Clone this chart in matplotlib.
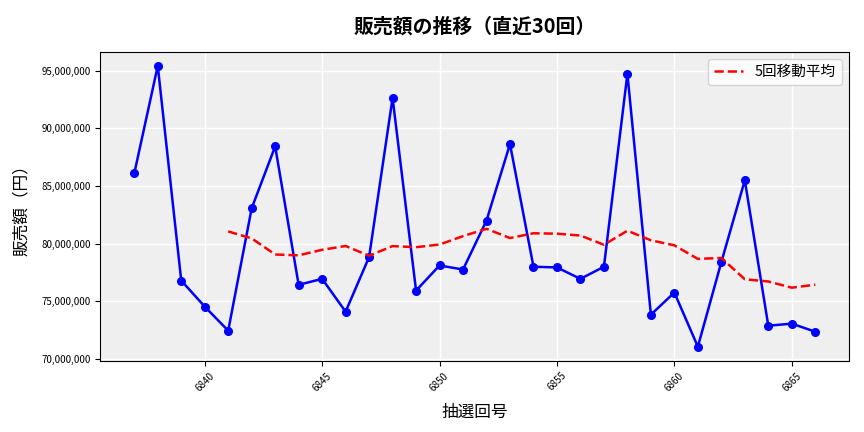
import matplotlib
matplotlib.use("Agg")
import matplotlib.pyplot as plt
import matplotlib.ticker as mticker
import numpy as np
import pandas as pd

plt.rcParams['font.family'] = ['Noto Sans CJK JP', 'DejaVu Sans']

draws = list(range(6837, 6867))
sales = [86.09, 95.43, 76.79, 74.53, 72.44, 83.07, 88.44, 76.42, 76.94, 74.09,
         78.83, 92.65, 75.92, 78.10, 77.75, 82.00, 88.64, 77.99, 77.93, 76.94,
         77.99, 94.74, 73.83, 75.75, 71.05, 78.39, 85.50, 72.87, 73.05, 72.35]
sales = [v * 1_000_000 for v in sales]

s = pd.Series(sales, index=draws)
ma = s.rolling(5).mean()

fig, ax = plt.subplots(figsize=(8.64, 4.32), dpi=100)
ax.set_facecolor('#efefef')
ax.grid(True, color='white', linewidth=1)
ax.set_axisbelow(True)

ax.plot(draws, sales, color='blue', marker='o', markersize=5.5, linewidth=1.8)
ax.plot(draws, ma.values, color='red', linestyle='--', linewidth=1.8, label='5回移動平均')

ax.set_title('販売額の推移（直近30回）', fontsize=14.3, fontweight='bold', pad=14)
ax.set_xlabel('抽選回号', fontsize=12, labelpad=8)
ax.set_ylabel('販売額（円）', fontsize=12, labelpad=8)
ax.yaxis.set_major_formatter(mticker.FuncFormatter(lambda v, p: f'{int(v):,}'))
ax.xaxis.set_major_locator(mticker.MultipleLocator(5))
ax.tick_params(axis='x', labelsize=7, labelrotation=45)
ax.tick_params(axis='y', labelsize=7)
ax.legend(loc='upper right', fontsize=10.5)

fig.subplots_adjust(left=0.116, right=0.983, top=0.88, bottom=0.165)
fig.savefig('out.png', dpi=100)
